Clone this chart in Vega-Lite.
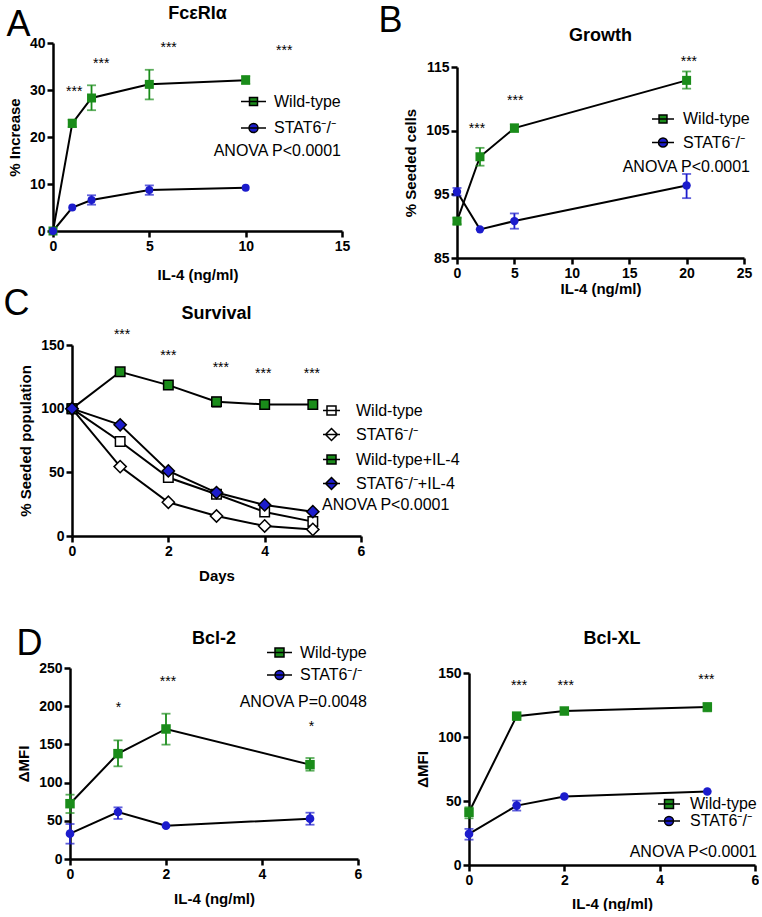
{
"$schema":"https://vega.github.io/schema/vega-lite/v6.json",
"padding":{"top":-2,"left":0,"right":0,"bottom":0},
"config":{
 "font":"Liberation Sans",
 "view":{"stroke":null},
 "axis":{"grid":false,"domainColor":"black","domainWidth":2.5,"tickColor":"black","tickWidth":2.5,"tickSize":6,"labelFontSize":14,"labelFontWeight":"bold","labelColor":"black","labelPadding":2,"titleFontSize":15,"titleFontWeight":"bold","titleColor":"black","labelFlush":false,"labelOverlap":false},
 "axisX":{"titlePadding":10},
 "axisY":{"titlePadding":7},
 "title":{"fontSize":18,"fontWeight":"bold","color":"black","frame":"group","anchor":"middle"},
 "legend":{"orient":"none","labelFontSize":16,"labelColor":"black","titleFontSize":16,"titleFontWeight":"normal","titleColor":"black","titleOrient":"bottom","padding":0,"titleLimit":400,"labelLimit":400}
},
"datasets":{
 "A":[
  {"series":"Wild-type","dose":0,"mean":0},
  {"series":"Wild-type","dose":1,"mean":22.9,"lo":22.1,"hi":23.7},
  {"series":"Wild-type","dose":2,"mean":28.3,"lo":25.7,"hi":31.0},
  {"series":"Wild-type","dose":5,"mean":31.2,"lo":28.0,"hi":34.3},
  {"series":"Wild-type","dose":10,"mean":32.1,"lo":31.3,"hi":33.0},
  {"series":"STAT6⁻/⁻","dose":0,"mean":0},
  {"series":"STAT6⁻/⁻","dose":1,"mean":5.0},
  {"series":"STAT6⁻/⁻","dose":2,"mean":6.6,"lo":5.6,"hi":7.6},
  {"series":"STAT6⁻/⁻","dose":5,"mean":8.7,"lo":7.7,"hi":9.7},
  {"series":"STAT6⁻/⁻","dose":10,"mean":9.2}
 ],
 "As":[{"x":1.1,"y":30.2,"label":"***"},{"x":2.5,"y":36.2,"label":"***"},{"x":6.0,"y":39.6,"label":"***"},{"x":12.0,"y":38.9,"label":"***"}],
 "B":[
  {"series":"Wild-type","dose":0,"mean":90.8,"lo":90.3,"hi":91.3},
  {"series":"Wild-type","dose":2,"mean":100.9,"lo":99.5,"hi":102.3},
  {"series":"Wild-type","dose":5,"mean":105.4,"lo":104.8,"hi":106.0},
  {"series":"Wild-type","dose":20,"mean":112.9,"lo":111.6,"hi":114.3},
  {"series":"STAT6⁻/⁻","dose":0,"mean":95.4,"lo":94.8,"hi":96.0},
  {"series":"STAT6⁻/⁻","dose":2,"mean":89.5},
  {"series":"STAT6⁻/⁻","dose":5,"mean":90.8,"lo":89.6,"hi":92.0},
  {"series":"STAT6⁻/⁻","dose":20,"mean":96.4,"lo":94.4,"hi":98.2}
 ],
 "Bs":[{"x":1.74,"y":105.7,"label":"***"},{"x":5.07,"y":110.1,"label":"***"},{"x":20.2,"y":116.3,"label":"***"}],
 "C":[
  {"series":"Wild-type","day":0,"mean":100},{"series":"Wild-type","day":1,"mean":74.2},{"series":"Wild-type","day":2,"mean":45.9},{"series":"Wild-type","day":3,"mean":32.8},{"series":"Wild-type","day":4,"mean":18.9},{"series":"Wild-type","day":5,"mean":11.3},
  {"series":"STAT6⁻/⁻","day":0,"mean":100},{"series":"STAT6⁻/⁻","day":1,"mean":54.5},{"series":"STAT6⁻/⁻","day":2,"mean":26.5},{"series":"STAT6⁻/⁻","day":3,"mean":15.7},{"series":"STAT6⁻/⁻","day":4,"mean":7.9},{"series":"STAT6⁻/⁻","day":5,"mean":5.2},
  {"series":"Wild-type+IL-4","day":0,"mean":100},{"series":"Wild-type+IL-4","day":1,"mean":129},{"series":"Wild-type+IL-4","day":2,"mean":118.5},{"series":"Wild-type+IL-4","day":3,"mean":105.4,"lo":101.5,"hi":108.8},{"series":"Wild-type+IL-4","day":4,"mean":103.3},{"series":"Wild-type+IL-4","day":5,"mean":103.3},
  {"series":"STAT6⁻/⁻+IL-4","day":0,"mean":100},{"series":"STAT6⁻/⁻+IL-4","day":1,"mean":87.3},{"series":"STAT6⁻/⁻+IL-4","day":2,"mean":51.1},{"series":"STAT6⁻/⁻+IL-4","day":3,"mean":34.1},{"series":"STAT6⁻/⁻+IL-4","day":4,"mean":24.4},{"series":"STAT6⁻/⁻+IL-4","day":5,"mean":19.1}
 ],
 "Cs":[{"x":1.04,"y":160,"label":"***"},{"x":2.0,"y":144,"label":"***"},{"x":3.09,"y":134.5,"label":"***"},{"x":3.97,"y":129.8,"label":"***"},{"x":4.98,"y":129.8,"label":"***"}],
 "D1":[
  {"series":"Wild-type","dose":0,"mean":72.4,"lo":60.2,"hi":84.2},
  {"series":"Wild-type","dose":1,"mean":137.9,"lo":121.3,"hi":155.3},
  {"series":"Wild-type","dose":2,"mean":170.2,"lo":149.7,"hi":190.2},
  {"series":"Wild-type","dose":5,"mean":123.5,"lo":115.6,"hi":132.2},
  {"series":"STAT6⁻/⁻","dose":0,"mean":33.2,"lo":20.1,"hi":45.8},
  {"series":"STAT6⁻/⁻","dose":1,"mean":61.5,"lo":52.4,"hi":67.6},
  {"series":"STAT6⁻/⁻","dose":2,"mean":43.6},
  {"series":"STAT6⁻/⁻","dose":5,"mean":52.8,"lo":44.9,"hi":60.6}
 ],
 "D1s":[{"x":1.01,"y":201,"label":"*"},{"x":2.04,"y":236,"label":"***"},{"x":5.03,"y":176.7,"label":"*"}],
 "D2":[
  {"series":"Wild-type","dose":0,"mean":41.2,"lo":36.5,"hi":45.1},
  {"series":"Wild-type","dose":1,"mean":116.3,"lo":115.3,"hi":117.3},
  {"series":"Wild-type","dose":2,"mean":120.3},
  {"series":"Wild-type","dose":5,"mean":123.4,"lo":120.0,"hi":126.5},
  {"series":"STAT6⁻/⁻","dose":0,"mean":24.3,"lo":19.8,"hi":28.2},
  {"series":"STAT6⁻/⁻","dose":1,"mean":46.4,"lo":42.5,"hi":50.3},
  {"series":"STAT6⁻/⁻","dose":2,"mean":53.5},
  {"series":"STAT6⁻/⁻","dose":5,"mean":57.4}
 ],
 "D2s":[{"x":1.05,"y":142.4,"label":"***"},{"x":2.03,"y":142.4,"label":"***"},{"x":4.98,"y":146.9,"label":"***"}]
},
"spacing":-11,
"resolve":{"scale":{"color":"independent","fill":"independent","shape":"independent"},"legend":{"color":"independent","fill":"independent","shape":"independent"}},
"vconcat":[
 {"spacing":0,
  "resolve":{"scale":{"color":"independent","fill":"independent","shape":"independent"},"legend":{"color":"independent","fill":"independent","shape":"independent"}},
  "hconcat":[
  {"spacing":0,
   "resolve":{"scale":{"color":"independent","fill":"independent","shape":"independent"},"legend":{"color":"independent","fill":"independent","shape":"independent"}},
   "vconcat":[
   {"width":1,"height":5,"view":{"stroke":"transparent","fill":"transparent"},"data":{"values":[]},"mark":"point","encoding":{}},
   {"spacing":0,
    "resolve":{"scale":{"color":"independent","fill":"independent","shape":"independent"},"legend":{"color":"independent","fill":"independent","shape":"independent"}},
    "hconcat":[
    {"width":4,"height":1,"view":{"stroke":"transparent","fill":"transparent"},"data":{"values":[]},"mark":"point","encoding":{}},
    {"width":289,"height":188,
     "title":{"text":"FcεRIα","offset":-17},
     "resolve":{"axis":{"x":"independent"}},
     "layer":[
      {"data":{"name":"A"},"mark":{"type":"line","color":"black","strokeWidth":2},
       "encoding":{"x":{"field":"dose","type":"quantitative","scale":{"domain":[0,15]},"axis":{"values":[0,5,10,15],"title":"IL-4 (ng/ml)","titlePadding":14}},
        "y":{"field":"mean","type":"quantitative","scale":{"domain":[0,40]},"axis":{"values":[0,10,20,30,40]},"title":"% Increase"},
        "detail":{"field":"series"}}},
      {"data":{"name":"A"},"transform":[{"filter":"isValid(datum.lo)"}],"mark":{"type":"errorbar","ticks":{"size":9,"thickness":1.8},"rule":{"strokeWidth":1.8}},
       "encoding":{"x":{"field":"dose","type":"quantitative","scale":{"domain":[0,15]},"axis":null},
        "y":{"field":"lo","type":"quantitative","scale":{"domain":[0,40]},"axis":{"values":[0,10,20,30,40]},"title":"% Increase"},"y2":{"field":"hi"},
        "color":{"field":"series","type":"nominal","scale":{"domain":["STAT6⁻/⁻","Wild-type"],"range":["#1C1CCC","#1A8C1A"]},"legend":null}}},
      {"data":{"name":"A"},"transform":[{"filter":"datum.series == 'Wild-type'"}],"mark":{"type":"point","shape":"square","filled":true,"color":"#1A8C1A","opacity":1,"size":81},
       "encoding":{"x":{"field":"dose","type":"quantitative","scale":{"domain":[0,15]},"axis":null},"y":{"field":"mean","type":"quantitative","scale":{"domain":[0,40]},"axis":{"values":[0,10,20,30,40]},"title":"% Increase"}}},
      {"data":{"name":"A"},"transform":[{"filter":"datum.series != 'Wild-type'"}],"mark":{"type":"point","shape":"circle","filled":true,"color":"#1C1CCC","opacity":1,"size":64},
       "encoding":{"x":{"field":"dose","type":"quantitative","scale":{"domain":[0,15]},"axis":null},"y":{"field":"mean","type":"quantitative","scale":{"domain":[0,40]},"axis":{"values":[0,10,20,30,40]},"title":"% Increase"}}},
      {"data":{"name":"As"},"mark":{"type":"text","fontSize":14,"color":"black","baseline":"middle","dy":3},
       "encoding":{"x":{"field":"x","type":"quantitative","scale":{"domain":[0,15]},"axis":null},"y":{"field":"y","type":"quantitative","scale":{"domain":[0,40]},"axis":{"values":[0,10,20,30,40]},"title":"% Increase"},"text":{"field":"label"}}},
      {"data":{"name":"A"},"transform":[{"filter":"false"}],"mark":{"type":"point","filled":true,"opacity":1,"stroke":"black","strokeWidth":1.8},
       "encoding":{"x":{"field":"dose","type":"quantitative","scale":{"domain":[0,15]},"axis":{"orient":"top","domain":false,"ticks":false,"labels":false,"title":"A","titleFontSize":36,"titleFontWeight":"normal","titleAngle":0,"titleAlign":"left","titleBaseline":"alphabetic","titleX":-47,"titleY":-8}},
        "y":{"field":"mean","type":"quantitative","scale":{"domain":[0,40]},"axis":{"values":[0,10,20,30,40]},"title":"% Increase"},
        "fill":{"field":"series","type":"nominal","scale":{"domain":["Wild-type","STAT6⁻/⁻"],"range":["#1A8C1A","#1C1CCC"]},
         "legend":{"orient":"none","title":"ANOVA P<0.0001","titleAnchor":"end","titlePadding":7,"legendX":160,"legendY":45,"symbolSize":625,"labelOffset":7,"rowPadding":4.5,"encode":{"symbols":{"update":{"stroke":{"value":"black"},"strokeWidth":{"value":1.8}}}}}},
        "shape":{"field":"series","type":"nominal","scale":{"domain":["Wild-type","STAT6⁻/⁻"],"range":["M-1,0H1M-0.32,-0.32H0.32V0.32H-0.32Z","M-1,0H1M0.36,0A0.36,0.36,0,1,1,-0.36,0A0.36,0.36,0,1,1,0.36,0Z"]},
         "legend":{"orient":"none","title":"ANOVA P<0.0001","titleAnchor":"end","titlePadding":7,"legendX":160,"legendY":45,"symbolSize":625,"labelOffset":7,"rowPadding":4.5,"encode":{"symbols":{"update":{"stroke":{"value":"black"},"strokeWidth":{"value":1.8}}}}}}}}
     ]}
    ]}
   ]},
  {"spacing":0,
   "resolve":{"scale":{"color":"independent","fill":"independent","shape":"independent"},"legend":{"color":"independent","fill":"independent","shape":"independent"}},
   "vconcat":[
   {"width":1,"height":2,"view":{"stroke":"transparent","fill":"transparent"},"data":{"values":[]},"mark":"point","encoding":{}},
   {"spacing":0,
    "resolve":{"scale":{"color":"independent","fill":"independent","shape":"independent"},"legend":{"color":"independent","fill":"independent","shape":"independent"}},
    "hconcat":[
    {"width":26,"height":1,"view":{"stroke":"transparent","fill":"transparent"},"data":{"values":[]},"mark":"point","encoding":{}},
    {"width":287,"height":191,
     "title":{"text":"Growth","offset":-43},
     "resolve":{"axis":{"x":"independent"}},
     "layer":[
      {"data":{"name":"B"},"mark":{"type":"line","color":"black","strokeWidth":2},
       "encoding":{"x":{"field":"dose","type":"quantitative","scale":{"domain":[0,25]},"axis":{"values":[0,5,10,15,20,25],"title":"IL-4 (ng/ml)","titlePadding":1}},
        "y":{"field":"mean","type":"quantitative","scale":{"domain":[85,115]},"axis":{"values":[85,95,105,115]},"title":"% Seeded cells"},
        "detail":{"field":"series"}}},
      {"data":{"name":"B"},"transform":[{"filter":"isValid(datum.lo)"}],"mark":{"type":"errorbar","ticks":{"size":9,"thickness":1.8},"rule":{"strokeWidth":1.8}},
       "encoding":{"x":{"field":"dose","type":"quantitative","scale":{"domain":[0,25]},"axis":null},
        "y":{"field":"lo","type":"quantitative","scale":{"domain":[85,115]},"axis":{"values":[85,95,105,115]},"title":"% Seeded cells"},"y2":{"field":"hi"},
        "color":{"field":"series","type":"nominal","scale":{"domain":["STAT6⁻/⁻","Wild-type"],"range":["#1C1CCC","#1A8C1A"]},"legend":null}}},
      {"data":{"name":"B"},"transform":[{"filter":"datum.series == 'Wild-type'"}],"mark":{"type":"point","shape":"square","filled":true,"color":"#1A8C1A","opacity":1,"size":81},
       "encoding":{"x":{"field":"dose","type":"quantitative","scale":{"domain":[0,25]},"axis":null},"y":{"field":"mean","type":"quantitative","scale":{"domain":[85,115]},"axis":{"values":[85,95,105,115]},"title":"% Seeded cells"}}},
      {"data":{"name":"B"},"transform":[{"filter":"datum.series != 'Wild-type'"}],"mark":{"type":"point","shape":"circle","filled":true,"color":"#1C1CCC","opacity":1,"size":70},
       "encoding":{"x":{"field":"dose","type":"quantitative","scale":{"domain":[0,25]},"axis":null},"y":{"field":"mean","type":"quantitative","scale":{"domain":[85,115]},"axis":{"values":[85,95,105,115]},"title":"% Seeded cells"}}},
      {"data":{"name":"Bs"},"mark":{"type":"text","fontSize":14,"color":"black","baseline":"middle","dy":3},
       "encoding":{"x":{"field":"x","type":"quantitative","scale":{"domain":[0,25]},"axis":null},"y":{"field":"y","type":"quantitative","scale":{"domain":[85,115]},"axis":{"values":[85,95,105,115]},"title":"% Seeded cells"},"text":{"field":"label"}}},
      {"data":{"name":"B"},"transform":[{"filter":"false"}],"mark":{"type":"point","filled":true,"opacity":1,"stroke":"black","strokeWidth":1.8},
       "encoding":{"x":{"field":"dose","type":"quantitative","scale":{"domain":[0,25]},"axis":{"orient":"top","domain":false,"ticks":false,"labels":false,"title":"B","titleFontSize":36,"titleFontWeight":"normal","titleAngle":0,"titleAlign":"left","titleBaseline":"alphabetic","titleX":-79,"titleY":-36}},
        "y":{"field":"mean","type":"quantitative","scale":{"domain":[85,115]},"axis":{"values":[85,95,105,115]},"title":"% Seeded cells"},
        "fill":{"field":"series","type":"nominal","scale":{"domain":["Wild-type","STAT6⁻/⁻"],"range":["#1A8C1A","#1C1CCC"]},
         "legend":{"orient":"none","title":"ANOVA P<0.0001","titleAnchor":"end","titlePadding":8,"legendX":165,"legendY":40,"symbolSize":484,"labelOffset":8,"rowPadding":3.5,"encode":{"symbols":{"update":{"stroke":{"value":"black"},"strokeWidth":{"value":1.8}}}}}},
        "shape":{"field":"series","type":"nominal","scale":{"domain":["Wild-type","STAT6⁻/⁻"],"range":["M-1,0H1M-0.36,-0.36H0.36V0.36H-0.36Z","M-1,0H1M0.41,0A0.41,0.41,0,1,1,-0.41,0A0.41,0.41,0,1,1,0.41,0Z"]},
         "legend":{"orient":"none","title":"ANOVA P<0.0001","titleAnchor":"end","titlePadding":8,"legendX":165,"legendY":40,"symbolSize":484,"labelOffset":8,"rowPadding":3.5,"encode":{"symbols":{"update":{"stroke":{"value":"black"},"strokeWidth":{"value":1.8}}}}}}}}
     ]}
    ]}
   ]}
 ]},
 {"spacing":0,
  "resolve":{"scale":{"color":"independent","fill":"independent","shape":"independent"},"legend":{"color":"independent","fill":"independent","shape":"independent"}},
  "hconcat":[
  {"width":1,"height":1,"view":{"stroke":"transparent","fill":"transparent"},"data":{"values":[]},"mark":"point","encoding":{}},
  {"width":289,"height":191,
   "title":{"text":"Survival","offset":-38},
   "resolve":{"axis":{"x":"independent"}},
   "layer":[
    {"data":{"name":"C"},"mark":{"type":"line","color":"black","strokeWidth":2},
     "encoding":{"x":{"field":"day","type":"quantitative","scale":{"domain":[0,6]},"axis":{"values":[0,2,4,6],"title":"Days","titlePadding":10}},
      "y":{"field":"mean","type":"quantitative","scale":{"domain":[0,150]},"axis":{"values":[0,50,100,150]},"title":"% Seeded population"},
      "detail":{"field":"series"}}},
    {"data":{"name":"C"},"transform":[{"filter":"isValid(datum.lo)"}],"mark":{"type":"errorbar","color":"black","ticks":{"size":9,"thickness":1.8},"rule":{"strokeWidth":1.8}},
     "encoding":{"x":{"field":"day","type":"quantitative","scale":{"domain":[0,6]},"axis":null},
      "y":{"field":"lo","type":"quantitative","scale":{"domain":[0,150]},"axis":{"values":[0,50,100,150]},"title":"% Seeded population"},"y2":{"field":"hi"}}},
    {"data":{"name":"C"},"transform":[{"filter":"datum.series == 'Wild-type'"}],"mark":{"type":"point","shape":"square","filled":true,"fill":"white","stroke":"black","strokeWidth":1.5,"opacity":1,"size":90},
     "encoding":{"x":{"field":"day","type":"quantitative","scale":{"domain":[0,6]},"axis":null},"y":{"field":"mean","type":"quantitative","scale":{"domain":[0,150]},"axis":{"values":[0,50,100,150]},"title":"% Seeded population"}}},
    {"data":{"name":"C"},"transform":[{"filter":"datum.series == 'STAT6⁻/⁻'"}],"mark":{"type":"point","shape":"diamond","filled":true,"fill":"white","stroke":"black","strokeWidth":1.5,"opacity":1,"size":150},
     "encoding":{"x":{"field":"day","type":"quantitative","scale":{"domain":[0,6]},"axis":null},"y":{"field":"mean","type":"quantitative","scale":{"domain":[0,150]},"axis":{"values":[0,50,100,150]},"title":"% Seeded population"}}},
    {"data":{"name":"C"},"transform":[{"filter":"datum.series == 'Wild-type+IL-4'"}],"mark":{"type":"point","shape":"square","filled":true,"fill":"#1A8C1A","stroke":"black","strokeWidth":1.5,"opacity":1,"size":90},
     "encoding":{"x":{"field":"day","type":"quantitative","scale":{"domain":[0,6]},"axis":null},"y":{"field":"mean","type":"quantitative","scale":{"domain":[0,150]},"axis":{"values":[0,50,100,150]},"title":"% Seeded population"}}},
    {"data":{"name":"C"},"transform":[{"filter":"datum.series == 'STAT6⁻/⁻+IL-4'"}],"mark":{"type":"point","shape":"diamond","filled":true,"fill":"#1C1CCC","stroke":"black","strokeWidth":1.5,"opacity":1,"size":150},
     "encoding":{"x":{"field":"day","type":"quantitative","scale":{"domain":[0,6]},"axis":null},"y":{"field":"mean","type":"quantitative","scale":{"domain":[0,150]},"axis":{"values":[0,50,100,150]},"title":"% Seeded population"}}},
    {"data":{"name":"Cs"},"mark":{"type":"text","fontSize":14,"color":"black","baseline":"middle","dy":3},
     "encoding":{"x":{"field":"x","type":"quantitative","scale":{"domain":[0,6]},"axis":null},"y":{"field":"y","type":"quantitative","scale":{"domain":[0,150]},"axis":{"values":[0,50,100,150]},"title":"% Seeded population"},"text":{"field":"label"}}},
    {"data":{"name":"C"},"transform":[{"filter":"false"}],"mark":{"type":"point","filled":true,"opacity":1,"stroke":"black","strokeWidth":1.5},
     "encoding":{"x":{"field":"day","type":"quantitative","scale":{"domain":[0,6]},"axis":{"orient":"top","domain":false,"ticks":false,"labels":false,"title":"C","titleFontSize":36,"titleFontWeight":"normal","titleAngle":0,"titleAlign":"left","titleBaseline":"alphabetic","titleX":-69,"titleY":-31}},
      "y":{"field":"mean","type":"quantitative","scale":{"domain":[0,150]},"axis":{"values":[0,50,100,150]},"title":"% Seeded population"},
      "fill":{"field":"series","type":"nominal","scale":{"domain":["Wild-type","STAT6⁻/⁻","Wild-type+IL-4","STAT6⁻/⁻+IL-4"],"range":["white","white","#1A8C1A","#1C1CCC"]},
       "legend":{"orient":"none","title":"ANOVA P<0.0001","titleAnchor":"start","titlePadding":5,"legendX":250,"legendY":56,"symbolSize":289,"labelOffset":15,"rowPadding":6,"encode":{"symbols":{"update":{"stroke":{"value":"black"},"strokeWidth":{"value":1.5}}}}}},
      "shape":{"field":"series","type":"nominal","scale":{"domain":["Wild-type","STAT6⁻/⁻","Wild-type+IL-4","STAT6⁻/⁻+IL-4"],"range":["M-1,0H1M-0.53,-0.53H0.53V0.53H-0.53Z","M-1,0H1M0,-0.7L0.7,0L0,0.7L-0.7,0Z","M-1,0H1M-0.53,-0.53H0.53V0.53H-0.53Z","M-1,0H1M0,-0.7L0.7,0L0,0.7L-0.7,0Z"]},
       "legend":{"orient":"none","title":"ANOVA P<0.0001","titleAnchor":"start","titlePadding":5,"legendX":250,"legendY":56,"symbolSize":289,"labelOffset":15,"rowPadding":6,"encode":{"symbols":{"update":{"stroke":{"value":"black"},"strokeWidth":{"value":1.5}}}}}}}}
   ]}
 ]},
 {"spacing":0,
  "resolve":{"scale":{"color":"independent","fill":"independent","shape":"independent"},"legend":{"color":"independent","fill":"independent","shape":"independent"}},
  "hconcat":[
  {"spacing":0,
   "resolve":{"scale":{"color":"independent","fill":"independent","shape":"independent"},"legend":{"color":"independent","fill":"independent","shape":"independent"}},
   "vconcat":[
   {"width":1,"height":41,"view":{"stroke":"transparent","fill":"transparent"},"data":{"values":[]},"mark":"point","encoding":{}},
   {"spacing":0,
    "resolve":{"scale":{"color":"independent","fill":"independent","shape":"independent"},"legend":{"color":"independent","fill":"independent","shape":"independent"}},
    "hconcat":[
    {"width":14,"height":1,"view":{"stroke":"transparent","fill":"transparent"},"data":{"values":[]},"mark":"point","encoding":{}},
    {"width":288,"height":191,
     "title":{"text":"Bcl-2","offset":-23},
     "resolve":{"axis":{"x":"independent"}},
     "layer":[
      {"data":{"name":"D1"},"mark":{"type":"line","color":"black","strokeWidth":2},
       "encoding":{"x":{"field":"dose","type":"quantitative","scale":{"domain":[0,6]},"axis":{"values":[0,2,4,6],"title":"IL-4 (ng/ml)","titlePadding":10}},
        "y":{"field":"mean","type":"quantitative","scale":{"domain":[0,250]},"axis":{"values":[0,50,100,150,200,250]},"title":"ΔMFI"},
        "detail":{"field":"series"}}},
      {"data":{"name":"D1"},"transform":[{"filter":"isValid(datum.lo)"}],"mark":{"type":"errorbar","ticks":{"size":9,"thickness":1.8},"rule":{"strokeWidth":1.8}},
       "encoding":{"x":{"field":"dose","type":"quantitative","scale":{"domain":[0,6]},"axis":null},
        "y":{"field":"lo","type":"quantitative","scale":{"domain":[0,250]},"axis":{"values":[0,50,100,150,200,250]},"title":"ΔMFI"},"y2":{"field":"hi"},
        "color":{"field":"series","type":"nominal","scale":{"domain":["STAT6⁻/⁻","Wild-type"],"range":["#1C1CCC","#1A8C1A"]},"legend":null}}},
      {"data":{"name":"D1"},"transform":[{"filter":"datum.series == 'Wild-type'"}],"mark":{"type":"point","shape":"square","filled":true,"color":"#1A8C1A","opacity":1,"size":90},
       "encoding":{"x":{"field":"dose","type":"quantitative","scale":{"domain":[0,6]},"axis":null},"y":{"field":"mean","type":"quantitative","scale":{"domain":[0,250]},"axis":{"values":[0,50,100,150,200,250]},"title":"ΔMFI"}}},
      {"data":{"name":"D1"},"transform":[{"filter":"datum.series != 'Wild-type'"}],"mark":{"type":"point","shape":"circle","filled":true,"color":"#1C1CCC","opacity":1,"size":75},
       "encoding":{"x":{"field":"dose","type":"quantitative","scale":{"domain":[0,6]},"axis":null},"y":{"field":"mean","type":"quantitative","scale":{"domain":[0,250]},"axis":{"values":[0,50,100,150,200,250]},"title":"ΔMFI"}}},
      {"data":{"name":"D1s"},"mark":{"type":"text","fontSize":14,"color":"black","baseline":"middle","dy":3},
       "encoding":{"x":{"field":"x","type":"quantitative","scale":{"domain":[0,6]},"axis":null},"y":{"field":"y","type":"quantitative","scale":{"domain":[0,250]},"axis":{"values":[0,50,100,150,200,250]},"title":"ΔMFI"},"text":{"field":"label"}}},
      {"data":{"name":"D1"},"transform":[{"filter":"false"}],"mark":{"type":"point","filled":true,"opacity":1,"stroke":"black","strokeWidth":1.8},
       "encoding":{"x":{"field":"dose","type":"quantitative","scale":{"domain":[0,6]},"axis":{"orient":"top","domain":false,"ticks":false,"labels":false,"title":"D","titleFontSize":36,"titleFontWeight":"normal","titleAngle":0,"titleAlign":"left","titleBaseline":"alphabetic","titleX":-54,"titleY":-14}},
        "y":{"field":"mean","type":"quantitative","scale":{"domain":[0,250]},"axis":{"values":[0,50,100,150,200,250]},"title":"ΔMFI"},
        "fill":{"field":"series","type":"nominal","scale":{"domain":["Wild-type","STAT6⁻/⁻"],"range":["#1A8C1A","#1C1CCC"]},
         "legend":{"orient":"none","title":"ANOVA P=0.0048","titleAnchor":"end","titlePadding":11,"legendX":169,"legendY":-29,"symbolSize":625,"labelOffset":7,"rowPadding":0.5,"encode":{"symbols":{"update":{"stroke":{"value":"black"},"strokeWidth":{"value":1.8}}}}}},
        "shape":{"field":"series","type":"nominal","scale":{"domain":["Wild-type","STAT6⁻/⁻"],"range":["M-1,0H1M-0.36,-0.36H0.36V0.36H-0.36Z","M-1,0H1M0.36,0A0.36,0.36,0,1,1,-0.36,0A0.36,0.36,0,1,1,0.36,0Z"]},
         "legend":{"orient":"none","title":"ANOVA P=0.0048","titleAnchor":"end","titlePadding":11,"legendX":169,"legendY":-29,"symbolSize":625,"labelOffset":7,"rowPadding":0.5,"encode":{"symbols":{"update":{"stroke":{"value":"black"},"strokeWidth":{"value":1.8}}}}}}}}
     ]}
    ]}
   ]},
  {"spacing":0,
   "resolve":{"scale":{"color":"independent","fill":"independent","shape":"independent"},"legend":{"color":"independent","fill":"independent","shape":"independent"}},
   "vconcat":[
   {"width":1,"height":46,"view":{"stroke":"transparent","fill":"transparent"},"data":{"values":[]},"mark":"point","encoding":{}},
   {"spacing":0,
    "resolve":{"scale":{"color":"independent","fill":"independent","shape":"independent"},"legend":{"color":"independent","fill":"independent","shape":"independent"}},
    "hconcat":[
    {"width":46,"height":1,"view":{"stroke":"transparent","fill":"transparent"},"data":{"values":[]},"mark":"point","encoding":{}},
    {"width":286,"height":192,
     "title":{"text":"Bcl-XL","offset":18},
     "layer":[
      {"data":{"name":"D2"},"mark":{"type":"line","color":"black","strokeWidth":2},
       "encoding":{"x":{"field":"dose","type":"quantitative","scale":{"domain":[0,6]},"axis":{"values":[0,2,4,6],"title":"IL-4 (ng/ml)","titlePadding":9}},
        "y":{"field":"mean","type":"quantitative","scale":{"domain":[0,150]},"axis":{"values":[0,50,100,150]},"title":"ΔMFI"},
        "detail":{"field":"series"}}},
      {"data":{"name":"D2"},"transform":[{"filter":"isValid(datum.lo)"}],"mark":{"type":"errorbar","ticks":{"size":9,"thickness":1.8},"rule":{"strokeWidth":1.8}},
       "encoding":{"x":{"field":"dose","type":"quantitative","scale":{"domain":[0,6]},"axis":{"values":[0,2,4,6],"title":"IL-4 (ng/ml)","titlePadding":9}},
        "y":{"field":"lo","type":"quantitative","scale":{"domain":[0,150]},"axis":{"values":[0,50,100,150]},"title":"ΔMFI"},"y2":{"field":"hi"},
        "color":{"field":"series","type":"nominal","scale":{"domain":["STAT6⁻/⁻","Wild-type"],"range":["#1C1CCC","#1A8C1A"]},"legend":null}}},
      {"data":{"name":"D2"},"transform":[{"filter":"datum.series == 'Wild-type'"}],"mark":{"type":"point","shape":"square","filled":true,"color":"#1A8C1A","opacity":1,"size":90},
       "encoding":{"x":{"field":"dose","type":"quantitative","scale":{"domain":[0,6]},"axis":{"values":[0,2,4,6],"title":"IL-4 (ng/ml)","titlePadding":9}},"y":{"field":"mean","type":"quantitative","scale":{"domain":[0,150]},"axis":{"values":[0,50,100,150]},"title":"ΔMFI"}}},
      {"data":{"name":"D2"},"transform":[{"filter":"datum.series != 'Wild-type'"}],"mark":{"type":"point","shape":"circle","filled":true,"color":"#1C1CCC","opacity":1,"size":75},
       "encoding":{"x":{"field":"dose","type":"quantitative","scale":{"domain":[0,6]},"axis":{"values":[0,2,4,6],"title":"IL-4 (ng/ml)","titlePadding":9}},"y":{"field":"mean","type":"quantitative","scale":{"domain":[0,150]},"axis":{"values":[0,50,100,150]},"title":"ΔMFI"}}},
      {"data":{"name":"D2s"},"mark":{"type":"text","fontSize":14,"color":"black","baseline":"middle","dy":3},
       "encoding":{"x":{"field":"x","type":"quantitative","scale":{"domain":[0,6]},"axis":{"values":[0,2,4,6],"title":"IL-4 (ng/ml)","titlePadding":9}},"y":{"field":"y","type":"quantitative","scale":{"domain":[0,150]},"axis":{"values":[0,50,100,150]},"title":"ΔMFI"},"text":{"field":"label"}}},
      {"data":{"name":"D2"},"transform":[{"filter":"false"}],"mark":{"type":"point","filled":true,"opacity":1,"stroke":"black","strokeWidth":1.8},
       "encoding":{"x":{"field":"dose","type":"quantitative","scale":{"domain":[0,6]},"axis":{"values":[0,2,4,6],"title":"IL-4 (ng/ml)","titlePadding":9}},
        "y":{"field":"mean","type":"quantitative","scale":{"domain":[0,150]},"axis":{"values":[0,50,100,150]},"title":"ΔMFI"},
        "fill":{"field":"series","type":"nominal","scale":{"domain":["Wild-type","STAT6⁻/⁻"],"range":["#1A8C1A","#1C1CCC"]},
         "legend":{"orient":"none","title":"ANOVA P<0.0001","titleAnchor":"end","titlePadding":15,"legendX":160,"legendY":122,"symbolSize":256,"labelOffset":12,"rowPadding":0,"encode":{"symbols":{"update":{"stroke":{"value":"black"},"strokeWidth":{"value":1.8}}}}}},
        "shape":{"field":"series","type":"nominal","scale":{"domain":["Wild-type","STAT6⁻/⁻"],"range":["M-1.375,0H1.375M-0.56,-0.56H0.56V0.56H-0.56Z","M-1.375,0H1.375M0.56,0A0.56,0.56,0,1,1,-0.56,0A0.56,0.56,0,1,1,0.56,0Z"]},
         "legend":{"orient":"none","title":"ANOVA P<0.0001","titleAnchor":"end","titlePadding":15,"legendX":160,"legendY":122,"symbolSize":256,"labelOffset":12,"rowPadding":0,"encode":{"symbols":{"update":{"stroke":{"value":"black"},"strokeWidth":{"value":1.8}}}}}}}}
     ]}
    ]}
   ]}
 ]}
]
}
